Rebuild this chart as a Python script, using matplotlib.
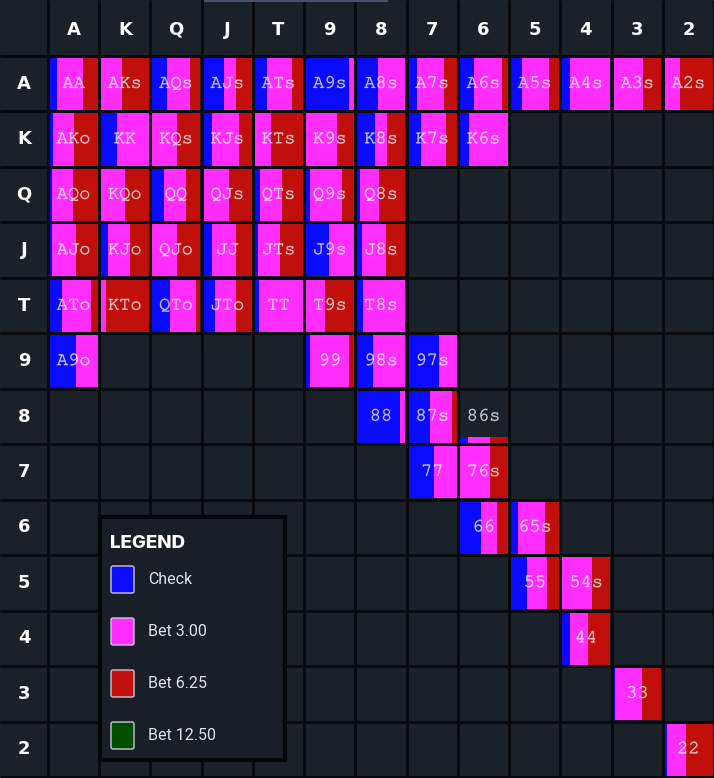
import matplotlib.pyplot as plt
import matplotlib.patches as mpatches
import matplotlib.patheffects as pe
from matplotlib.lines import Line2D
from matplotlib import font_manager

ranks = ['A', 'K', 'Q', 'J', 'T', '9', '8', '7', '6', '5', '4', '3', '2']

# hand, check, bet 3.00, bet 6.25, range weight
hands = ['AA', 'AKs', 'AQs', 'AJs', 'ATs', 'A9s', 'A8s', 'A7s', 'A6s', 'A5s', 'A4s', 'A3s', 'A2s',
         'AKo', 'KK', 'KQs', 'KJs', 'KTs', 'K9s', 'K8s', 'K7s', 'K6s',
         'AQo', 'KQo', 'QQ', 'QJs', 'QTs', 'Q9s', 'Q8s',
         'AJo', 'KJo', 'QJo', 'JJ', 'JTs', 'J9s', 'J8s',
         'ATo', 'KTo', 'QTo', 'JTo', 'TT', 'T9s', 'T8s',
         'A9o', '99', '98s', '97s',
         '88', '87s', '86s',
         '77', '76s',
         '66', '65s',
         '55', '54s',
         '44', '33', '22']
check = [.15, 0, .32, .43, .27, .90, .44, .18, .30, .23, .18, 0, 0,
         .08, .34, 0, .18, 0, 0, .37, .26, .20,
         .05, 0, .25, 0, .12, .10, .07,
         .05, .15, 0, .18, .07, .48, .10,
         .26, 0, .37, .24, .10, 0, .14,
         .55, .10, .34, .63,
         .90, .46, .19,
         .54, 0,
         .44, .15,
         .34, 0,
         .18, .05, .07]
bet3 = [.54, .44, .46, .24, .51, .10, .56, .56, .59, .56, .82, .63, .33,
        .42, .66, .52, .57, .34, .65, .25, .53, .80,
        .44, .51, .46, .53, .46, .65, .38,
        .50, .46, .51, .50, .46, .52, .50,
        .60, .11, .53, .44, .90, .41, .86,
        .45, .80, .66, .37,
        .10, .45, .44,
        .46, .64,
        .34, .56,
        .41, .63,
        .37, .55, .39]
bet625 = [.31, .56, .22, .33, .22, 0, 0, .26, .11, .21, 0, .37, .67,
          .50, 0, .48, .25, .66, .35, .38, .21, 0,
          .51, .49, .29, .47, .42, .25, .55,
          .45, .39, .49, .32, .47, 0, .40,
          .14, .89, .10, .32, 0, .59, 0,
          0, .10, 0, 0,
          0, .09, .37,
          0, .36,
          .22, .29,
          .25, .37,
          .45, .40, .54]
weight = [1.0] * len(hands)
weight[hands.index('86s')] = 0.12

legend_labels = ['Check', 'Bet 3.00', 'Bet 6.25', 'Bet 12.50']
legend_colors = ['#0a0aff', '#ff2eff', '#c1100b', '#004d00']

bg = '#1b2129'
line_col = '#080a0d'

# courier-like (serif) mono font for the hand labels, if one is on the system
wanted = ['cour.ttf', 'couriernew.ttf', 'nimbusmonops-regular.otf', 'nimbusmonops-regular.ttf',
          'nimbusmono-regular.otf', 'freemono.ttf', 'freemono.otf', 'liberationmono-regular.ttf']
found = {f.split('/')[-1].lower(): f for f in font_manager.findSystemFonts()}
mono = None
for w in wanted:
    if w in found:
        mono = font_manager.FontProperties(fname=found[w], size=13.5)
        break
if mono is None:
    mono = font_manager.FontProperties(family='DejaVu Sans Mono', size=12)
thick = [pe.withStroke(linewidth=0.6, foreground='white', alpha=0.42)]

fig = plt.figure(figsize=(7.14, 7.78), dpi=100, facecolor=bg)
ax = fig.add_axes([48 / 714, 1 / 778, 666 / 714, 721 / 778])
ax.set_facecolor(bg)
ax.set_xlim(0, 13)
ax.set_ylim(13, 0)
ax.axis('off')


def cell_of(h):
    a, b = ranks.index(h[0]), ranks.index(h[1])
    if len(h) == 2:
        return a, a
    if h[2] == 's':
        return a, b
    return b, a


ins = 0.025
for i, h in enumerate(hands):
    r, c = cell_of(h)
    left = c + ins
    full = 1 - 2 * ins
    hgt = weight[i] * full
    base = r + 1 - ins
    for frac, col in zip([check[i], bet3[i], bet625[i]], legend_colors[:3]):
        if frac > 0:
            ax.bar(left, -hgt, width=frac * full, bottom=base, align='edge',
                   color=col, linewidth=0, zorder=2)
            left += frac * full
    ax.text(c + 0.5, r + 0.5, h, ha='center', va='center', fontproperties=mono,
            color='white', alpha=0.42, zorder=4, path_effects=thick)

# grid lines incl. header row/column
top = -56 / 55.46
lft = -48 / 51.23
ax.vlines(range(0, 14), top, 13.1, color=line_col, lw=2.2, zorder=3, clip_on=False)
ax.hlines(range(0, 14), lft, 13.1, color=line_col, lw=2.2, zorder=3, clip_on=False)

for k, rk in enumerate(ranks):
    ax.text(k + 0.5, top / 2 + 0.03, rk, ha='center', va='center', fontsize=13,
            fontweight='bold', color='white', clip_on=False)
    ax.text(lft / 2, k + 0.5, rk, ha='center', va='center', fontsize=13,
            fontweight='bold', color='white', clip_on=False)

fig.add_artist(Line2D([205 / 714, 387 / 714], [1 - 1 / 778, 1 - 1 / 778],
                      color='#46506e', lw=1.5))

# legend box
lax = fig.add_axes([100 / 714, 18 / 778, 185 / 714, 243 / 778])
lax.set_facecolor('#1a1f27')
lax.set_xlim(0, 185)
lax.set_ylim(243, 0)
lax.set_xticks([])
lax.set_yticks([])
for s in lax.spines.values():
    s.set_color('#050607')
    s.set_linewidth(3)
lax.set_zorder(5)
lax.text(10, 27, 'LEGEND', family='Inter', fontweight='heavy', fontsize=13.5,
         color='white', va='center', ha='left')
for k, (lab, col) in enumerate(zip(legend_labels, legend_colors)):
    y0 = 49 + 52 * k
    lax.add_patch(mpatches.FancyBboxPatch((11, y0), 23, 27,
                                          boxstyle='round,pad=0,rounding_size=2',
                                          facecolor=col, edgecolor='#c8c8d8', lw=1))
    lax.text(48, y0 + 13.5, lab, family='Roboto', fontsize=11.5, color='#e2e2e6',
             va='center', ha='left')

fig.savefig('out.png', dpi=100, facecolor=bg)
